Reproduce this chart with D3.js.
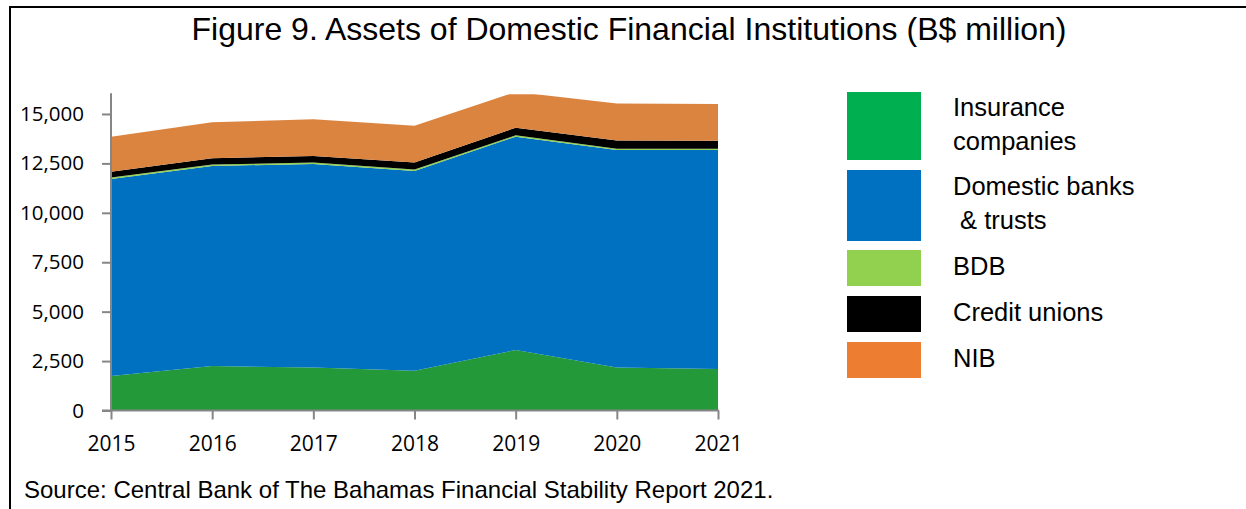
<!DOCTYPE html>
<html>
<head>
<meta charset="utf-8">
<script src="https://cdn.jsdelivr.net/npm/d3@7/dist/d3.min.js"></script>
<style>
  html, body { margin: 0; padding: 0; background: #fff; }
  svg { display: block; }
</style>
</head>
<body>
<svg id="chart" width="1246" height="509"></svg>
<script>
// Assets of domestic financial institutions, B$ million
const years = [2015, 2016, 2017, 2018, 2019, 2020, 2021];
const insurance = [1750, 2250, 2170, 2010, 3060, 2170, 2100];
const domesticBanks = [9960, 10120, 10300, 10110, 10790, 11010, 11080];
const bdb = [70, 70, 70, 70, 70, 60, 60];
const creditUnions = [300, 320, 335, 350, 385, 420, 410];
const nib = [1770, 1820, 1860, 1860, 1810, 1870, 1860];
const yTicks = [0, 2500, 5000, 7500, 10000, 12500, 15000];

const seriesNames = ["Insurance companies", "Domestic banks & trusts", "BDB", "Credit unions", "NIB"];
const seriesKeys = ["ins", "banks", "bdb", "cu", "nib"];
const areaColors = ["#24993a", "#0070c0", "#92d050", "#000000", "#db8440"];
const legendColors = ["#00b050", "#0070c0", "#92d050", "#000000", "#ed7d31"];

const rows = years.map((y, i) => ({
  year: y, ins: insurance[i], banks: domesticBanks[i], bdb: bdb[i], cu: creditUnions[i], nib: nib[i]
}));

const svg = d3.select("#chart");

// frame lines
svg.append("line").attr("x1", 10).attr("x2", 1246).attr("y1", 7).attr("y2", 7)
  .attr("stroke", "#000").attr("stroke-width", 2);
svg.append("line").attr("x1", 10).attr("x2", 10).attr("y1", 6).attr("y2", 509)
  .attr("stroke", "#000").attr("stroke-width", 2);

// title
svg.append("text").attr("x", 629).attr("y", 40).attr("text-anchor", "middle")
  .attr("font-family", "Liberation Sans, Arial, sans-serif").attr("font-size", 32)
  .attr("fill", "#000")
  .text("Figure 9. Assets of Domestic Financial Institutions (B$ million)");

const x = d3.scaleLinear().domain([2015, 2021]).range([111, 718]);
const y = d3.scaleLinear().domain([0, 16000]).range([410.5, 94.2]);

const stack = d3.stack().keys(seriesKeys);
const layers = stack(rows);

svg.append("clipPath").attr("id", "plotClip")
  .append("rect").attr("x", 111).attr("y", y(16000)).attr("width", 607).attr("height", y(0) - y(16000));

const area = d3.area()
  .x(d => x(d.data.year))
  .y0(d => y(d[0]))
  .y1(d => y(d[1]));

svg.append("g").attr("clip-path", "url(#plotClip)")
  .selectAll("path").data(layers).join("path")
  .attr("d", area)
  .attr("fill", (d, i) => areaColors[i]);

const tickFont = "Open Sans, sans-serif";
const axisColor = "#868686";

// y axis
const yAxis = svg.append("g").attr("transform", "translate(111,0)")
  .call(d3.axisLeft(y).tickValues(yTicks).tickFormat(d3.format(",")).tickSize(9).tickPadding(18));
yAxis.select(".domain").attr("stroke", axisColor).attr("stroke-width", 2)
  .attr("d", `M0,${y(16000) - 1}V${y(0)}`);
yAxis.selectAll(".tick line").attr("stroke", axisColor).attr("stroke-width", 2);
yAxis.selectAll(".tick text").attr("font-family", tickFont).attr("font-size", 20.5).attr("fill", "#000");

// x axis
const xAxis = svg.append("g").attr("transform", `translate(0,${y(0)})`)
  .call(d3.axisBottom(x).tickValues(years).tickFormat(d3.format("d")).tickSize(9).tickPadding(17));
xAxis.select(".domain").attr("stroke", axisColor).attr("stroke-width", 2)
  .attr("d", `M102,0H719`);
xAxis.selectAll(".tick line").attr("stroke", axisColor).attr("stroke-width", 2);
xAxis.selectAll(".tick text").attr("font-family", tickFont).attr("font-size", 21).attr("fill", "#000");

// legend
const legendRows = [
  { y0: 92, h: 68, lines: ["Insurance", "companies"], ty: [115.5, 150] },
  { y0: 170, h: 71, lines: ["Domestic banks", "\u00a0& trusts"], ty: [195, 229] },
  { y0: 250, h: 36, lines: ["BDB"], ty: [275] },
  { y0: 296, h: 36, lines: ["Credit unions"], ty: [321] },
  { y0: 342, h: 36, lines: ["NIB"], ty: [367] }
];
const legend = svg.append("g");
legendRows.forEach((r, i) => {
  legend.append("rect").attr("x", 847).attr("y", r.y0).attr("width", 74).attr("height", r.h)
    .attr("fill", legendColors[i]);
  r.lines.forEach((t, j) => {
    legend.append("text").attr("x", 953).attr("y", r.ty[j])
      .attr("font-family", "Liberation Sans, Arial, sans-serif").attr("font-size", 25.5)
      .attr("fill", "#000").text(t);
  });
});

// source note
svg.append("text").attr("x", 24).attr("y", 498)
  .attr("font-family", "Liberation Sans, Arial, sans-serif").attr("font-size", 24)
  .attr("fill", "#000")
  .text("Source: Central Bank of The Bahamas Financial Stability Report 2021.");
</script>
</body>
</html>
